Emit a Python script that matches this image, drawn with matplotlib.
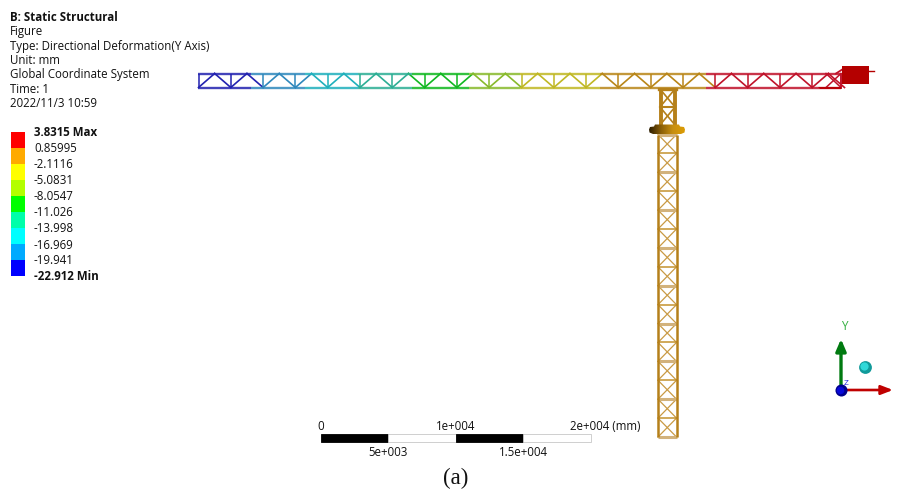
import matplotlib
matplotlib.use('Agg')
import matplotlib.pyplot as plt
import numpy as np
from matplotlib.patches import Rectangle, Polygon

# legend
legend_labels = ['3.8315 Max', '0.85995', '-2.1116', '-5.0831', '-8.0547', '-11.026',
                 '-13.998', '-16.969', '-19.941', '-22.912 Min']
legend_colors = ['#ff0000', '#ffaa00', '#ffff00', '#b3ff00', '#00ff00',
                 '#00ffaa', '#00ffff', '#00aaff', '#0000ff']
header_lines = ['B: Static Structural', 'Figure', 'Type: Directional Deformation(Y Axis)', 'Unit: mm',
                'Global Coordinate System', 'Time: 1', '2022/11/3 10:59']

# colour bands along the jib
band_edges = [198, 251, 305, 358, 412, 469, 520, 600, 706, 841]
band_colors = ['#2222b0', '#2f88bc', '#1fb0bc', '#2cae94', '#10b820', '#88ba2c', '#c0b824', '#b98618', '#c0122a']
tower_color = '#b5801a'

# scale bar
scale_ticks = [0, 5000, 10000, 15000, 20000]
scale_labels = ['0', '5e+003', '1e+004', '1.5e+004', '2e+004 (mm)']

plt.rcParams['font.family'] = 'Open Sans'
text_size = 8.3

fig = plt.figure(figsize=(8.98, 4.91), dpi=100)
ax = fig.add_axes([0, 0, 1, 1])
ax.set_xlim(0, 898)
ax.set_ylim(491, 0)
ax.axis('off')


def band_color(x):
    i = np.searchsorted(band_edges, x, side='right') - 1
    return band_colors[min(max(i, 0), len(band_colors) - 1)]


# header text
for i, line in enumerate(header_lines):
    ax.text(10, 17.5 + i * 14.3, line, fontsize=text_size, va='center', color='#111111',
            fontweight='bold' if i == 0 else 'normal')

# legend bar
for i, c in enumerate(legend_colors):
    ax.add_patch(Rectangle((10.5, 132 + i * 16), 14.5, 16, facecolor=c, edgecolor='none'))
for i, lab in enumerate(legend_labels):
    ax.text(34, 133 + i * 16, lab, fontsize=text_size, va='center', color='#111111',
            fontweight='bold' if i in (0, 9) else 'normal')

# jib chords
jib_top, jib_bot = 73.5, 87.5
for j in range(len(band_colors)):
    for y in (jib_top, jib_bot):
        ax.plot([band_edges[j], band_edges[j + 1]], [y, y], color=band_colors[j], lw=1.7,
                solid_capstyle='butt', zorder=3, alpha=0.85)

# jib web members
x = 198.5
step = 32.3
while x < 830:
    ax.plot([x, x], [jib_top, jib_bot], color=band_color(x), lw=1.3, alpha=0.85, solid_capstyle='butt')
    apex = x + step / 2
    ax.plot([x, apex], [jib_bot, jib_top], color=band_color(x + 4), lw=1.2)
    ax.plot([apex, x + step], [jib_top, jib_bot], color=band_color(apex + 4), lw=1.2)
    x += step

# jib end and counterweight
red = band_colors[-1]
ax.plot([826, 841], [jib_top, jib_bot], color=red, lw=1.1)
ax.plot([826, 841], [jib_bot, jib_top], color=red, lw=1.1)
ax.plot([841, 841], [jib_top, jib_bot], color=red, lw=1.4)
ax.add_patch(Polygon([[818, 87], [841, 87], [841, 89], [820, 89]], facecolor='#b80008', edgecolor='none', zorder=4))
ax.plot([836, 843], [jib_top, 69], color=red, lw=1.3)
ax.add_patch(Rectangle((841.5, 66), 27, 17.5, facecolor='#b40000', edgecolor='none', zorder=4))
ax.plot([868, 874], [70.5, 70.5], color='#b40000', lw=1)

# head section of the mast
for mx in (660.5, 674.5):
    ax.plot([mx, mx], [88, 125], color=tower_color, lw=2.8, solid_capstyle='butt', zorder=3)
ax.plot([659, 676], [89, 89], color=tower_color, lw=2.4, zorder=3)
ax.plot([660, 675], [107, 107], color=tower_color, lw=1.5, zorder=3)
for y0, y1 in ((89, 107), (107, 125)):
    ax.plot([660, 675], [y0, y1], color=tower_color, lw=1.2)
    ax.plot([675, 660], [y0, y1], color=tower_color, lw=1.2)

# tower
tower_top, tower_bot = 134.5, 437
panels = 16
ys = np.linspace(tower_top, tower_bot, panels + 1)
for i in range(panels):
    ax.plot([658, 676.5], [ys[i], ys[i + 1]], color='#c99a44', lw=0.9)
    ax.plot([676.5, 658], [ys[i], ys[i + 1]], color='#c99a44', lw=0.9)
for i, y in enumerate(ys):
    if i % 2 == 0:
        ax.plot([658, 676.5], [y, y], color='#d2b27c', lw=2.2, solid_capstyle='butt')
    else:
        ax.plot([658, 676.5], [y, y], color='#c4922e', lw=1.1, solid_capstyle='butt')
for mx in (657.5, 677):
    ax.plot([mx, mx], [tower_top, tower_bot], color=tower_color, lw=1.8, solid_capstyle='butt', zorder=3)

# slewing ring with dark to gold shading
ring = np.linspace(0, 1, 64).reshape(1, -1)
cmap = matplotlib.colors.LinearSegmentedColormap.from_list('ring', ['#2e1e00', '#8a5f08', '#c88f10', '#dc9c04'])
im = ax.imshow(ring, extent=[649, 685, 134.5, 124], cmap=cmap, aspect='auto', zorder=4)
ring_outline = Polygon([[655, 124.5], [679, 124.5], [680, 126.5], [684, 127], [685, 129.5], [684.5, 132.5],
                        [681, 134], [653, 134], [649.5, 132.5], [649, 129.5], [650, 127], [654, 126.5]],
                       facecolor='none', edgecolor='none', transform=ax.transData)
ax.add_patch(ring_outline)
im.set_clip_path(ring_outline)
ax.set_xlim(0, 898)
ax.set_ylim(491, 0)

# triad
ax.annotate('', xy=(841, 339), xytext=(841, 392),
            arrowprops=dict(arrowstyle='-|>,head_width=0.3,head_length=0.7', color='#007a10', lw=2.4, shrinkA=0, shrinkB=0))
ax.annotate('', xy=(893, 390), xytext=(841, 390),
            arrowprops=dict(arrowstyle='-|>,head_width=0.27,head_length=0.7', color='#c00000', lw=1.9, shrinkA=0, shrinkB=0))
ax.scatter([841], [390], s=75, color='#00008c', zorder=5, linewidths=0)
ax.scatter([840.3], [389.5], s=30, color='#0808d8', zorder=5, linewidths=0)
ax.scatter([864.5], [366.5], s=85, color='#119a9a', zorder=5, linewidths=0)
ax.scatter([864], [366], s=35, color='#30d8d8', zorder=5, linewidths=0)
ax.text(844, 327, 'Y', fontsize=8.5, color='#2fae3c', ha='center', va='center')
ax.text(846, 383.5, 'Z', fontsize=6, color='#2020e0', ha='center', va='center', zorder=6)

# scale bar
x0, x1 = 320.5, 590.5
px_per_mm = (x1 - x0) / scale_ticks[-1]
for i in range(len(scale_ticks) - 1):
    left = x0 + scale_ticks[i] * px_per_mm
    right = x0 + scale_ticks[i + 1] * px_per_mm
    black = i % 2 == 0
    ax.add_patch(Rectangle((left, 434), right - left, 8, facecolor='black' if black else 'white',
                           edgecolor='black' if black else '#c8c8c8', lw=0.6))
for i, (t, lab) in enumerate(zip(scale_ticks, scale_labels)):
    px = x0 + t * px_per_mm
    if t == scale_ticks[-1]:
        ax.text(570, 426, lab, fontsize=text_size, ha='left', va='center', color='#111111')
    elif i % 2 == 0:
        ax.text(px, 426, lab, fontsize=text_size, ha='center', va='center', color='#111111')
    else:
        ax.text(px, 452, lab, fontsize=text_size, ha='center', va='center', color='#111111')

ax.text(456, 478.5, '(a)', fontsize=16.5, family='Liberation Serif', ha='center', va='center', color='#111111')

fig.savefig('out.png', dpi=100)
